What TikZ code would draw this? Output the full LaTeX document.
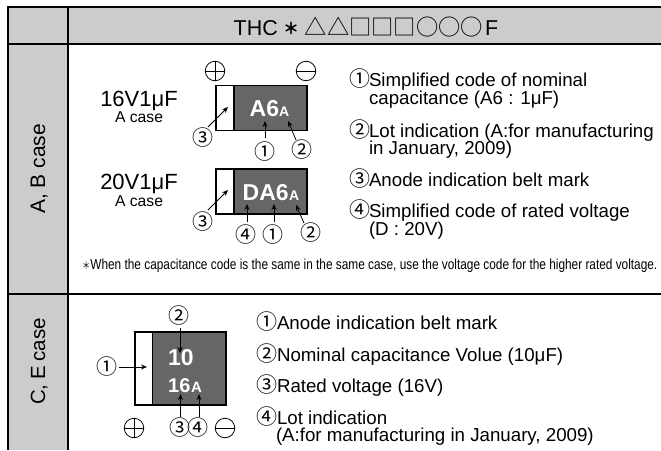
\documentclass[tikz,border=0pt]{standalone}
\usepackage{fontspec}
\usepackage{graphicx}
\usetikzlibrary{arrows.meta}
\setmainfont{Liberation Sans}
\newfontfamily\cjkf{Noto Sans CJK JP}
\newcommand{\fsz}[1]{\fontsize{#1}{#1}\selectfont}
\definecolor{headgrey}{HTML}{CCCCCC}
\definecolor{chipgrey}{HTML}{666666}
\tikzset{
  txt/.style={anchor=base west,inner sep=0pt,outer sep=0pt,font=\fsz{18.7}},
  casetxt/.style={anchor=base,inner sep=0pt,font=\fsz{15.7}},
  volt/.style={anchor=base,inner sep=0pt,font=\fsz{22}},
  sym/.style={anchor=center,inner sep=0pt,outer sep=1pt,font=\cjkf\fsz{21}},
  plusminus/.style={circle,draw=black,line width=0.8pt,minimum size=19.5pt,inner sep=0pt},
  chiptxt/.style={anchor=base west,inner sep=0pt,text=white,font=\bfseries\fsz{23}},
  chipsub/.style={anchor=base west,inner sep=0pt,text=white,font=\bfseries\fsz{14}},
  sidetxt/.style={anchor=base,rotate=90,inner sep=0pt,font=\fsz{21}},
  tablerule/.style={line width=2pt,black},
  chipbox/.style={draw=black,line width=1.5pt,fill=chipgrey},
  beltbox/.style={draw=black,line width=1.5pt,fill=white},
  arr/.style={line width=0.8pt,-{Stealth[length=6pt,width=5pt]}},
  thin stroke/.style={line width=0.8pt}
}
\begin{document}
\begin{tikzpicture}[x=1pt,y=-1pt]
\useasboundingbox (0,0) rectangle (661,450);
\fill[white] (0,0) rectangle (661,450);
% table fills
\fill[headgrey] (8,6.5) rectangle (661,44);
\fill[headgrey] (8,44) rectangle (67.5,450);
% table rules
\draw[tablerule] (661,6.5) -- (8,6.5) -- (8,450);
\draw[tablerule] (67.5,6.5) -- (67.5,450);
\draw[tablerule] (8,44) -- (661,44);
\draw[tablerule] (8,293.5) -- (661,293.5);
% header
\node[anchor=base west,inner sep=0pt,font=\fsz{21.5}] (thc) at (233.5,35) {THC};
\node[anchor=base west,inner sep=0pt,font=\cjkf\bfseries\fsz{16}] (star) at (283,34) {＊};
\node[anchor=base west,inner sep=0pt,font=\cjkf\fsz{22.3}] (code) at (304.5,35) {△△□□□○○○};
\node[anchor=base west,inner sep=0pt,font=\fsz{21.5}] (fin) at (485,35) {F};
% side labels
\node[sidetxt] (ab) at (45,169) {A, B case};
\node[sidetxt,font=\fsz{20.5}] (ce) at (45,361.5) {\spaceskip=4.7pt\relax C, E case};
% A case 1
\node[volt] (v1) at (139,106) {16V1μF};
\node[casetxt] (c1) at (139,122) {A case};
\node[plusminus] (p1) at (215,71) {};
\draw[thin stroke] (p1.north) -- (p1.south) (p1.west) -- (p1.east);
\node[plusminus] (m1) at (306,71) {};
\draw[thin stroke] (m1.west) -- (m1.east);
\draw[chipbox] (216,85.5) rectangle (307,130.5);
\draw[beltbox] (216,85.5) rectangle (234,130.5);
\node[chiptxt] (a6) at (249.5,116) {A6};
\node[chipsub] (a6a) at (279,116) {A};
\node[sym] (n13) at (203,138) {③};
\node[sym] (n11) at (265,152) {①};
\node[sym] (n12) at (302,150) {②};
\coordinate (t13) at (228,107);
\coordinate (t11) at (265,121);
\coordinate (t12) at (288,121);
\draw[arr] ([shift={(5,-11)}]n13.center) -- (t13);
\draw[arr] ([shift={(0,-14)}]n11.center) -- (t11);
\draw[arr] ([shift={(-6,-10)}]n12.center) -- (t12);
% A case 2
\node[volt] (v2) at (139,189) {20V1μF};
\node[casetxt] (c2) at (139,206) {A case};
\draw[chipbox] (216,169) rectangle (307,214);
\draw[beltbox] (216,169) rectangle (234,214);
\node[chiptxt] (da6) at (242.5,200) {DA6};
\node[chipsub] (da6a) at (289,200) {A};
\node[sym] (n23) at (203,222) {③};
\node[sym] (n24) at (246,235) {④};
\node[sym] (n21) at (273,235) {①};
\node[sym] (n22) at (311,233) {②};
\coordinate (t23) at (228,190);
\coordinate (t24) at (247,204);
\coordinate (t21) at (274,204);
\coordinate (t22) at (296,205);
\draw[arr] ([shift={(5,-12)}]n23.center) -- (t23);
\draw[arr] ([shift={(1,-13)}]n24.center) -- (t24);
\draw[arr] ([shift={(1,-13)}]n21.center) -- (t21);
\draw[arr] ([shift={(-7,-10)}]n22.center) -- (t22);
% top notes
\node[sym,anchor=base west] (l1) at (348.5,86) {①};
\node[txt] (l1a) at (369,86) {Simplified code of nominal};
\node[txt] (l1b) at (369,104.5) {capacitance (A6 : 1μF)};
\node[sym,anchor=base west] (l2) at (348.5,137) {②};
\node[txt] (l2a) at (369,137) {Lot indication (A:for manufacturing};
\node[txt] (l2b) at (369,154) {in January, 2009)};
\node[sym,anchor=base west] (l3) at (348.5,186) {③};
\node[txt] (l3a) at (369,186) {Anode indication belt mark};
\node[sym,anchor=base west] (l4) at (348.5,217) {④};
\node[txt] (l4a) at (369,217) {Simplified code of rated voltage};
\node[txt] (l4b) at (369,235) {(D : 20V)};
% footnote
\node[anchor=base west,inner sep=0pt,font=\fsz{14.5}] (foot) at (82,269) {\scalebox{0.817}[1]{{\cjkf\fsz{10}＊}When the capacitance code is the same in the same case, use the voltage code for the higher rated voltage.}};
% C, E case
\draw[chipbox] (135,332) rectangle (226,405);
\draw[beltbox] (135,332) rectangle (152.5,405);
\node[chiptxt] (ten) at (168,365) {10};
\node[chiptxt,font=\bfseries\fsz{20}] (sixteen) at (168,392) {16};
\node[chipsub,font=\bfseries\fsz{15}] (sixa) at (191,392) {A};
\node[sym] (e2) at (179,316) {②};
\node[sym] (e1) at (107,367) {①};
\node[sym] (e3) at (180,428) {③};
\node[sym] (e4) at (198,428) {④};
\node[plusminus] (p2) at (134,428) {};
\draw[thin stroke] (p2.north) -- (p2.south) (p2.west) -- (p2.east);
\node[plusminus] (m2) at (225,428) {};
\draw[thin stroke] (m2.west) -- (m2.east);
\coordinate (te2) at (180,353);
\coordinate (te1) at (147,367);
\coordinate (te3) at (180.5,394);
\coordinate (te4) at (199,394);
\draw[arr] ([shift={(1,12)}]e2.center) -- (te2);
\draw[arr] ([shift={(12,0)}]e1.center) -- (te1);
\draw[arr] ([shift={(0.5,-11)}]e3.center) -- (te3);
\draw[arr] ([shift={(1,-11)}]e4.center) -- (te4);
% lower notes
\node[sym,anchor=base west] (k1) at (255.5,329) {①};
\node[txt] (k1a) at (277,329) {Anode indication belt mark};
\node[sym,anchor=base west] (k2) at (255.5,361) {②};
\node[txt] (k2a) at (277,361) {Nominal capacitance Volue (10μF)};
\node[sym,anchor=base west] (k3) at (255.5,392) {③};
\node[txt] (k3a) at (277,392) {Rated voltage (16V)};
\node[sym,anchor=base west] (k4) at (255.5,424) {④};
\node[txt] (k4a) at (277,424) {Lot indication};
\node[txt] (k4b) at (276,441.5) {(A:for manufacturing in January, 2009)};
\end{tikzpicture}
\end{document}
